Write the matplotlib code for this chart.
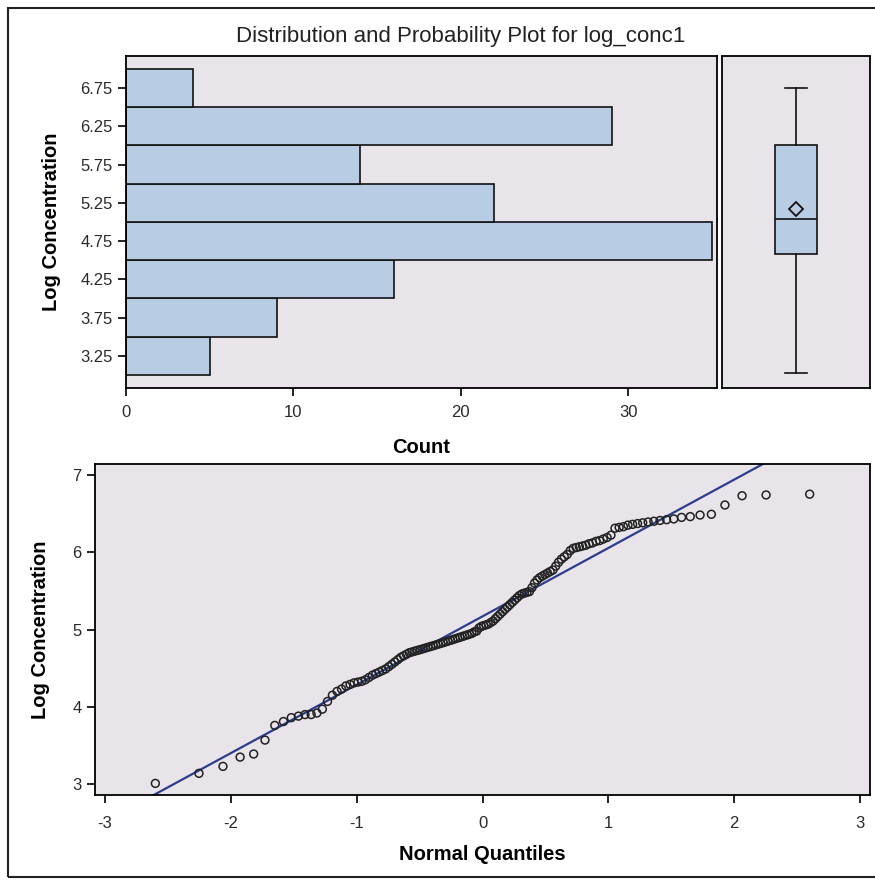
import matplotlib.pyplot as plt
import numpy as np
from statistics import NormalDist
from matplotlib.patches import Rectangle

# histogram of log_conc1 (bin midpoints, counts)
bin_mids = [3.25, 3.75, 4.25, 4.75, 5.25, 5.75, 6.25, 6.75]
counts = [5, 9, 16, 35, 22, 14, 29, 4]

# box plot summary
box_stats = dict(whislo=3.02, q1=4.58, med=5.04, q3=6.00, whishi=6.75, mean=5.17)

# sorted log_conc1 values
log_conc1 = [
    3.01, 3.14, 3.23, 3.35, 3.39, 3.57, 3.76, 3.81, 3.86, 3.88,
    3.90, 3.90, 3.92, 3.97, 4.07, 4.15, 4.20, 4.23, 4.27, 4.29,
    4.31, 4.32, 4.33, 4.35, 4.38, 4.41, 4.43, 4.45, 4.47, 4.49,
    4.52, 4.55, 4.58, 4.61, 4.64, 4.66, 4.68, 4.70, 4.71, 4.72,
    4.73, 4.74, 4.75, 4.76, 4.77, 4.78, 4.79, 4.80, 4.81, 4.82,
    4.83, 4.84, 4.85, 4.86, 4.87, 4.88, 4.89, 4.90, 4.91, 4.92,
    4.93, 4.94, 4.95, 4.97, 4.98, 5.02, 5.04, 5.05, 5.06, 5.07,
    5.09, 5.11, 5.14, 5.17, 5.20, 5.23, 5.26, 5.29, 5.32, 5.35,
    5.38, 5.41, 5.44, 5.46, 5.47, 5.48, 5.49, 5.54, 5.60, 5.64,
    5.67, 5.69, 5.71, 5.73, 5.75, 5.77, 5.82, 5.87, 5.91, 5.94,
    5.97, 6.02, 6.05, 6.06, 6.07, 6.08, 6.09, 6.11, 6.12, 6.14,
    6.15, 6.17, 6.19, 6.22, 6.31, 6.32, 6.33, 6.35, 6.36, 6.37,
    6.38, 6.39, 6.40, 6.41, 6.42, 6.43, 6.45, 6.46, 6.48, 6.49,
    6.61, 6.73, 6.74, 6.75,
]
# reference line (mean, std)
line_mu, line_sigma = 5.17, 0.884

bg = '#E8E4E9'
bar_col = '#B8CCE4'
line_col = '#2E3C8E'
plt.rcParams['font.family'] = ['Liberation Sans', 'DejaVu Sans']
plt.rcParams['axes.unicode_minus'] = False
plt.rcParams['axes.linewidth'] = 1.3
plt.rcParams['xtick.major.width'] = 1.3
plt.rcParams['ytick.major.width'] = 1.3

fig = plt.figure(figsize=(8.75, 8.8), dpi=100)
fig.patches.append(Rectangle((7.5 / 875, 3 / 880), 1.0, 1 - 11 / 880,
                             transform=fig.transFigure, fill=False,
                             edgecolor='#222222', linewidth=1.5))
fig.text(0.527, 0.959, 'Distribution and Probability Plot for log_conc1',
         ha='center', va='center', fontsize=16, color='#222222')

# histogram
ax1 = fig.add_axes([0.144, 0.5591, 0.6754, 0.3773])
ax1.set_facecolor(bg)
ax1.barh(bin_mids, counts, height=0.5, color=bar_col, edgecolor='#111111', linewidth=1.2)
ax1.set_xlim(0, 35.3)
ax1.set_ylim(2.83, 7.17)
ax1.set_yticks(bin_mids)
ax1.set_yticklabels([f'{v:.2f}' for v in bin_mids])
ax1.set_xticks([0, 10, 20, 30])
ax1.tick_params(length=6, labelsize=12, colors='#111111', labelcolor='#2a2a2a')
ax1.tick_params(axis='x', pad=6)
ax1.set_xlabel('Count', fontsize=14.5, fontweight='bold', labelpad=13)
ax1.set_ylabel('Log Concentration', fontsize=14.5, fontweight='bold', labelpad=14)

# box plot
ax2 = fig.add_axes([0.8251, 0.5591, 0.1692, 0.3773])
ax2.set_facecolor(bg)
st = dict(box_stats, fliers=[])
ax2.bxp([st], positions=[0.5], widths=0.29, showmeans=True, patch_artist=True,
        boxprops=dict(facecolor=bar_col, edgecolor='#111111', linewidth=1.2),
        medianprops=dict(color='#111111', linewidth=1.2),
        whiskerprops=dict(color='#111111', linewidth=1.2),
        capprops=dict(color='#111111', linewidth=1.2),
        meanprops=dict(marker='D', markerfacecolor='none', markeredgecolor='#111111',
                       markersize=7, markeredgewidth=1.3))
ax2.set_xlim(0, 1)
ax2.set_ylim(2.83, 7.17)
ax2.set_xticks([])
ax2.set_yticks([])

# normal probability plot
n = len(log_conc1)
quant = [NormalDist().inv_cdf((i - 0.375) / (n + 0.25)) for i in range(1, n + 1)]
ax3 = fig.add_axes([0.1086, 0.0966, 0.8857, 0.3761])
ax3.set_facecolor(bg)
xl = np.array([-3.08, 3.08])
ax3.plot(xl, line_mu + line_sigma * xl, color=line_col, linewidth=1.6, zorder=2)
ax3.scatter(quant, log_conc1, s=32, facecolors='none', edgecolors='#222222',
            linewidths=1.1, zorder=3)
ax3.set_xlim(-3.08, 3.08)
ax3.set_ylim(2.86, 7.14)
ax3.set_xticks([-3, -2, -1, 0, 1, 2, 3])
ax3.set_yticks([3, 4, 5, 6, 7])
ax3.tick_params(length=6, labelsize=12, colors='#111111', labelcolor='#2a2a2a')
ax3.tick_params(axis='x', pad=9)
ax3.set_xlabel('Normal Quantiles', fontsize=14.5, fontweight='bold', labelpad=10)
ax3.set_ylabel('Log Concentration', fontsize=14.5, fontweight='bold', labelpad=16)

fig.savefig('out.png', dpi=100)
